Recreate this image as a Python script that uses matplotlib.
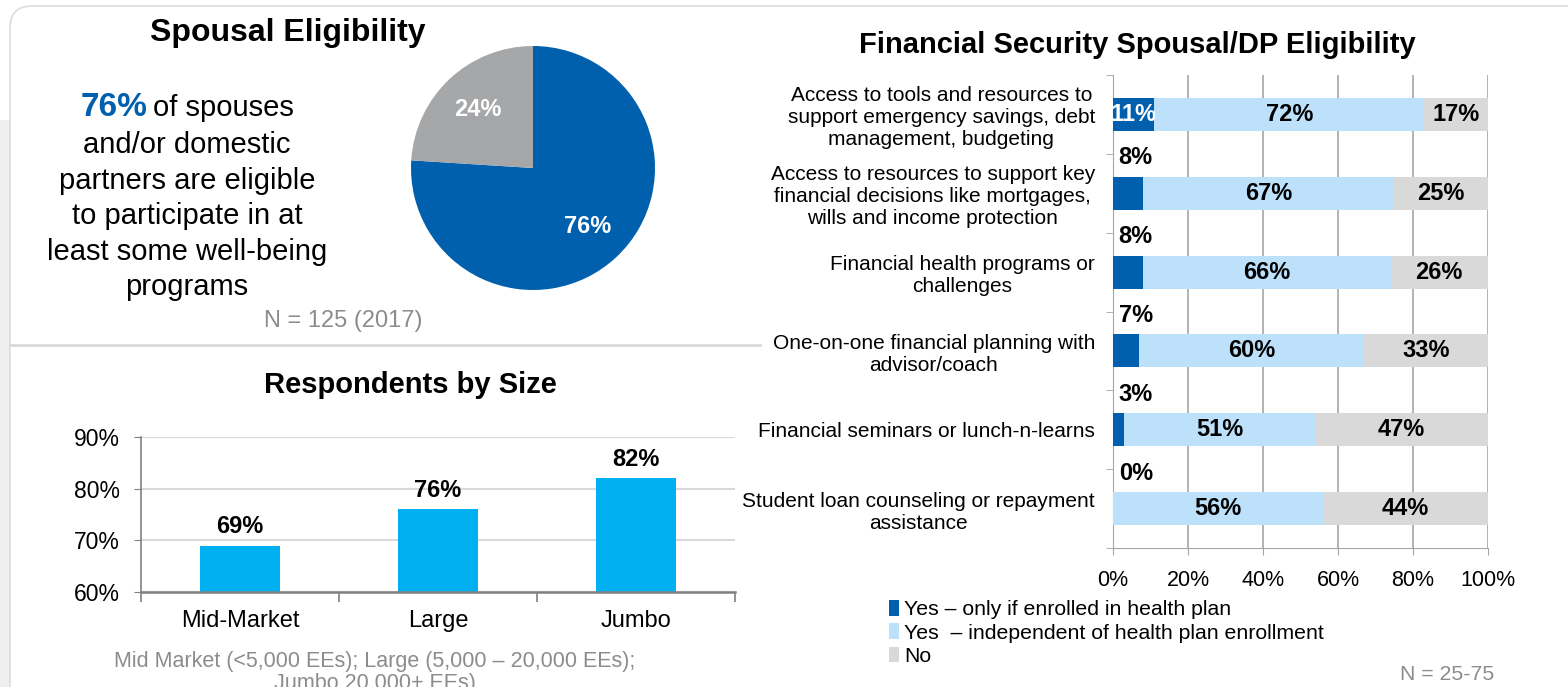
import matplotlib
matplotlib.use("Agg")
import matplotlib.pyplot as plt
from matplotlib.patches import FancyBboxPatch, Rectangle
from matplotlib.lines import Line2D

plt.rcParams['font.family'] = ['Liberation Sans', 'DejaVu Sans']

# spousal eligibility pie
pie_values = [76, 24]

# respondents by size
size_cats = ['Mid-Market', 'Large', 'Jumbo']
size_vals = [69, 76, 82]

# financial security programs
programs = [
    'Access to tools and resources to\nsupport emergency savings, debt\nmanagement, budgeting',
    'Access to resources to support key\nfinancial decisions like mortgages,\nwills and income protection',
    'Financial health programs or\nchallenges',
    'One-on-one financial planning with\nadvisor/coach',
    'Financial seminars or lunch-n-learns',
    'Student loan counseling or repayment\nassistance',
]
yes_enrolled = [11, 8, 8, 7, 3, 0]
yes_indep = [72, 67, 66, 60, 51, 56]
no_vals = [17, 25, 26, 33, 47, 44]
legend_labels = ['Yes \u2013 only if enrolled in health plan',
                 'Yes  \u2013 independent of health plan enrollment',
                 'No']

BLUE = '#0060AE'
LIGHT = '#BDE1FB'
GRAY_NO = '#D9D9D9'
PIE_GRAY = '#A6A7A9'
CYAN = '#00B0F0'
NOTE = '#8C8C8C'

W, H = 1568, 687
fig = plt.figure(figsize=(W / 100, H / 100), dpi=100)
fig.patch.set_facecolor('white')


def px_axes(left, top, right, bottom, **kw):
    return fig.add_axes([left / W, 1 - bottom / H, (right - left) / W, (bottom - top) / H], **kw)


# page background and panel outline
bg = px_axes(0, 0, W, H)
bg.set_xlim(0, W)
bg.set_ylim(H, 0)
bg.axis('off')
bg.add_patch(Rectangle((0, 120), 20, H - 120, color='#EFEFEF', lw=0))
bg.add_patch(FancyBboxPatch((10, 6), W + 40, H + 40, boxstyle='round,pad=0,rounding_size=22',
                            fc='white', ec='#DCDCDC', lw=1.2))
bg.add_line(Line2D([10, 760], [345, 345], color='#D9D9D9', lw=2))

# left text block
fig.text(288 / W, 1 - 33 / H, 'Spousal Eligibility', ha='center', va='center',
         fontsize=23, fontweight='bold')
fig.text(147 / W, 1 - 108 / H, '76%', ha='right', va='center', fontsize=24,
         fontweight='bold', color=BLUE)
fig.text(153 / W, 1 - 108 / H, 'of spouses', ha='left', va='center', fontsize=21)
body = ['and/or domestic', 'partners are eligible', 'to participate in at',
        'least some well-being', 'programs']
for i, line in enumerate(body):
    fig.text(187 / W, 1 - (145 + 35.5 * i) / H, line, ha='center', va='center', fontsize=21)
fig.text(343 / W, 1 - 321 / H, 'N = 125 (2017)', ha='center', va='center',
         fontsize=17, color=NOTE)

# pie
ax_pie = px_axes(411, 46, 655, 290)
wedges, texts, autotexts = ax_pie.pie(pie_values, colors=[BLUE, PIE_GRAY], startangle=90,
                                      counterclock=False, autopct='%d%%', pctdistance=0.66,
                                      textprops=dict(color='white', fontsize=17, fontweight='bold'))
ax_pie.set_xlim(-1, 1)
ax_pie.set_ylim(-1, 1)

# respondents by size
ax_bar = px_axes(141, 437, 735, 592)
xs = range(len(size_cats))
ax_bar.bar(xs, size_vals, width=0.4, color=CYAN, zorder=3)
for x, v in zip(xs, size_vals):
    ax_bar.text(x, v + 1.5, f'{v}%', ha='center', va='bottom', fontsize=17, fontweight='bold')
ax_bar.set_xlim(-0.5, 2.5)
ax_bar.set_ylim(60, 90)
ax_bar.set_yticks([60, 70, 80, 90])
ax_bar.set_yticklabels(['60%', '70%', '80%', '90%'])
ax_bar.set_xticks(list(xs))
ax_bar.set_xticklabels(size_cats)
ax_bar.set_xticks([-0.5, 0.5, 1.5, 2.5], minor=True)
ax_bar.tick_params(axis='x', which='major', length=0, pad=13, labelsize=17)
ax_bar.tick_params(axis='x', which='minor', length=7, color='#808080', width=1.2)
ax_bar.tick_params(axis='y', length=5, color='#808080', labelsize=16.5, pad=10)
ax_bar.grid(axis='y', color='#D9D9D9', lw=1.5, zorder=0)
for s in ['top', 'right']:
    ax_bar.spines[s].set_visible(False)
ax_bar.spines['bottom'].set_color('#808080')
ax_bar.spines['bottom'].set_linewidth(1.8)
ax_bar.spines['left'].set_color('#808080')
ax_bar.spines['left'].set_linewidth(1.2)
ax_bar.spines['bottom'].set_zorder(4)
fig.text(410 / W, 1 - 385 / H, 'Respondents by Size', ha='center', va='center',
         fontsize=21, fontweight='bold')
fig.text(375 / W, 1 - 661 / H, 'Mid Market (<5,000 EEs); Large (5,000 \u2013 20,000 EEs);',
         ha='center', va='center', fontsize=15.5, color=NOTE)
fig.text(375 / W, 1 - 683 / H, 'Jumbo 20,000+ EEs)', ha='center', va='center',
         fontsize=15.5, color=NOTE)

# financial security stacked bars
ax_fin = px_axes(1113, 75, 1488, 548)
ys = list(range(len(programs)))
ax_fin.barh(ys, yes_enrolled, height=0.42, color=BLUE, zorder=3, label=legend_labels[0])
ax_fin.barh(ys, yes_indep, left=yes_enrolled, height=0.42, color=LIGHT, zorder=3,
            label=legend_labels[1])
lefts = [a + b for a, b in zip(yes_enrolled, yes_indep)]
ax_fin.barh(ys, no_vals, left=lefts, height=0.42, color=GRAY_NO, zorder=3, label=legend_labels[2])
for y, a, b, c, l in zip(ys, yes_enrolled, yes_indep, no_vals, lefts):
    if a >= 10:
        ax_fin.text(a / 2, y, f'{a}%', ha='center', va='center', color='white',
                    fontsize=17, fontweight='bold', zorder=5)
    else:
        ax_fin.text(1.5, y - 0.45, f'{a}%', ha='left', va='center', color='black',
                    fontsize=17, fontweight='bold', zorder=5)
    ax_fin.text(a + b / 2, y, f'{b}%', ha='center', va='center', fontsize=17,
                fontweight='bold', zorder=5)
    ax_fin.text(l + (100 - l) / 2, y, f'{c}%', ha='center', va='center', fontsize=17,
                fontweight='bold', zorder=5)
ax_fin.set_xlim(0, 100)
ax_fin.set_ylim(len(programs) - 0.5, -0.5)
ax_fin.set_xticks(range(0, 101, 20))
ax_fin.set_xticklabels([f'{v}%' for v in range(0, 101, 20)])
ax_fin.set_yticks(ys)
ax_fin.set_yticklabels(programs, multialignment='center', linespacing=1.2)
ax_fin.set_yticks([y - 0.5 for y in ys] + [len(ys) - 0.5], minor=True)
ax_fin.tick_params(axis='y', which='major', length=0, pad=13, labelsize=15)
ax_fin.tick_params(axis='y', which='minor', length=5, color='#A6A6A6')
ax_fin.tick_params(axis='x', length=5, color='#A6A6A6', labelsize=15.5, pad=11)
ax_fin.grid(axis='x', color='#A6A6A6', lw=1.2, zorder=0)
for s in ['top', 'right']:
    ax_fin.spines[s].set_visible(False)
ax_fin.spines['left'].set_color('#A6A6A6')
ax_fin.spines['bottom'].set_color('#A6A6A6')
fig.text(1137 / W, 1 - 45 / H, 'Financial Security Spousal/DP Eligibility', ha='center',
         va='center', fontsize=21, fontweight='bold')
ax_fin.legend(loc='upper left', bbox_to_anchor=(889 / W, 1 - 600 / H),
              bbox_transform=fig.transFigure, frameon=False, fontsize=15.3,
              handlelength=0.45, handleheight=0.75, handletextpad=0.25, labelspacing=0.2,
              borderpad=0, borderaxespad=0)
fig.text(1447 / W, 1 - 674 / H, 'N = 25-75', ha='center', va='center', fontsize=15.3, color=NOTE)

fig.savefig('out.png', dpi=100, facecolor='white')
